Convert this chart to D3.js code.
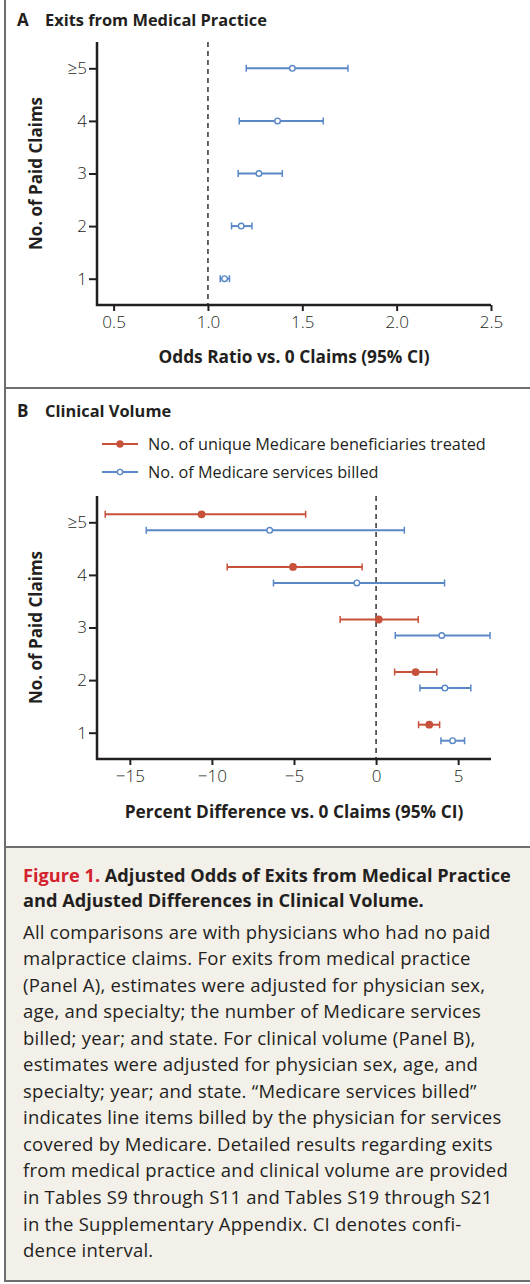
<!DOCTYPE html>
<html>
<head>
<meta charset="utf-8">
<script src="https://cdn.jsdelivr.net/npm/d3@7"></script>
<style>
  html, body { margin: 0; padding: 0; background: #fff; }
  svg { display: block; }
  text { font-family: "Open Sans", Lato, sans-serif; }
</style>
</head>
<body>
<svg id="fig" width="530" height="1284"></svg>
<script>
// ---- Data ----
const claimCategories = ["1", "2", "3", "4", "\u22655"];

// Panel A: odds ratio of exit vs. 0 claims
const exitOR    = [1.088, 1.176, 1.270, 1.369, 1.447];
const exitLower = [1.065, 1.125, 1.160, 1.166, 1.203];
const exitUpper = [1.114, 1.233, 1.394, 1.611, 1.742];
const orTicks   = [0.5, 1.0, 1.5, 2.0, 2.5];

// Panel B: percent difference vs. 0 claims
const beneficiariesEst   = [3.24, 2.41, 0.16, -5.06, -10.63];
const beneficiariesLower = [2.59, 1.13, -2.19, -9.07, -16.5];
const beneficiariesUpper = [3.87, 3.70, 2.57, -0.85, -4.29];

const servicesEst   = [4.66, 4.19, 4.00, -1.17, -6.48];
const servicesLower = [3.95, 2.67, 1.17, -6.25, -14.0];
const servicesUpper = [5.39, 5.77, 6.94, 4.17, 1.72];

const pctTicks = [-15, -10, -5, 0, 5];

const seriesNames = ["No. of unique Medicare beneficiaries treated", "No. of Medicare services billed"];

const captionTitle = ["Adjusted Odds of Exits from Medical Practice", "and Adjusted Differences in Clinical Volume."];
const captionBody = [
  "All comparisons are with physicians who had no paid",
  "malpractice claims. For exits from medical practice",
  "(Panel A), estimates were adjusted for physician sex,",
  "age, and specialty; the number of Medicare services",
  "billed; year; and state. For clinical volume (Panel B),",
  "estimates were adjusted for physician sex, age, and",
  "specialty; year; and state. \u201CMedicare services billed\u201D",
  "indicates line items billed by the physician for services",
  "covered by Medicare. Detailed results regarding exits",
  "from medical practice and clinical volume are provided",
  "in Tables S9 through S11 and Tables S19 through S21",
  "in the Supplementary Appendix. CI denotes confi-",
  "dence interval."
];

// ---- Style ----
const RED = "#c8513b";
const BLUE = "#5a87c6";
const INK = "#231f20";
const FRAME = "#6d6e70";

const svg = d3.select("#fig");

// Frame and caption background
svg.append("rect").attr("x", 5).attr("y", 847).attr("width", 525).attr("height", 434).attr("fill", "#f3f0ea");
svg.append("line").attr("x1", 5).attr("x2", 5).attr("y1", 0).attr("y2", 1282).attr("stroke", FRAME).attr("stroke-width", 2);
[388, 847, 1281].forEach(y =>
  svg.append("line").attr("x1", 4).attr("x2", 530).attr("y1", y).attr("y2", y).attr("stroke", FRAME).attr("stroke-width", 2));

// Shared axis helpers
function styleAxis(g) {
  g.select(".domain").remove();
  g.selectAll(".tick line").attr("stroke", INK).attr("stroke-width", 2);
  g.selectAll(".tick text").attr("fill", INK).style("font-size", "17px")
    .style("font-family", "\"Open Sans\", sans-serif").style("font-weight", 300);
}

function panel(opts) {
  const { top, bottom, left, right, xDomain, ticks, tickFmt, refX, title, letter, titleY, xLabel, xLabelY } = opts;
  const x = d3.scaleLinear().domain(xDomain).range([left, right]);
  const y = d3.scaleLinear().domain([0.5, 5.5]).range([bottom, top]);
  const g = svg.append("g");

  // Panel heading
  const head = g.append("text").attr("x", 17).attr("y", titleY).attr("fill", INK).style("font-weight", 700);
  head.append("tspan").text(letter).style("font-size", "17px");
  head.append("tspan").attr("x", 45).text(title).style("font-size", "16.4px");

  // Reference line
  g.append("line")
    .attr("x1", x(refX)).attr("x2", x(refX))
    .attr("y1", top).attr("y2", bottom)
    .attr("stroke", "#333").attr("stroke-width", 1.5).attr("stroke-dasharray", "5,4");

  // Axes
  const xa = g.append("g").attr("transform", `translate(0,${bottom})`)
    .call(d3.axisBottom(x).tickValues(ticks).tickFormat(tickFmt).tickSize(6).tickPadding(5));
  styleAxis(xa);
  const ya = g.append("g").attr("transform", `translate(${left},0)`)
    .call(d3.axisLeft(y).tickValues([1, 2, 3, 4, 5]).tickFormat((d, i) => claimCategories[i]).tickSize(8).tickPadding(2));
  styleAxis(ya);

  g.append("path")
    .attr("d", `M${left},${top}V${bottom}H${right}`)
    .attr("fill", "none").attr("stroke", INK).attr("stroke-width", 2.5);

  // Axis titles
  g.append("text").attr("x", (left + right) / 2).attr("y", xLabelY).attr("text-anchor", "middle")
    .attr("fill", INK).style("font-weight", 700).style("font-size", "17.3px").text(xLabel);
  g.append("text").attr("transform", `translate(42,${(top + bottom) / 2}) rotate(-90)`)
    .attr("text-anchor", "middle").attr("fill", INK).style("font-weight", 700).style("font-size", "17px")
    .text("No. of Paid Claims");

  return { g, x, y };
}

function errorBars(ctx, est, lo, hi, color, dy, filled) {
  const { g, x, y } = ctx;
  const rows = est.map((e, i) => ({ e, lo: lo[i], hi: hi[i], cy: y(i + 1) + dy }));
  const s = g.append("g");
  s.selectAll("line.ci").data(rows).join("line")
    .attr("x1", d => x(d.lo)).attr("x2", d => x(d.hi))
    .attr("y1", d => d.cy).attr("y2", d => d.cy)
    .attr("stroke", color).attr("stroke-width", 2);
  s.selectAll("path.cap").data(rows).join("path")
    .attr("d", d => `M${x(d.lo)},${d.cy - 3.5}v7M${x(d.hi)},${d.cy - 3.5}v7`)
    .attr("stroke", color).attr("stroke-width", 1.5).attr("fill", "none");
  s.selectAll("circle").data(rows).join("circle")
    .attr("cx", d => x(d.e)).attr("cy", d => d.cy)
    .attr("r", filled ? 3.2 : 2.8)
    .attr("fill", filled ? color : "#fff")
    .attr("stroke", color).attr("stroke-width", 1.4);
}

// ---- Panel A ----
const pa = panel({
  top: 42, bottom: 305, left: 97, right: 491,
  xDomain: [0.412, 2.5], ticks: orTicks, tickFmt: d3.format(".1f"), refX: 1,
  letter: "A", title: "Exits from Medical Practice", titleY: 26,
  xLabel: "Odds Ratio vs. 0 Claims (95% CI)", xLabelY: 363
});
errorBars(pa, exitOR, exitLower, exitUpper, BLUE, 0, false);

// ---- Panel B ----
const pb = panel({
  top: 496, bottom: 759, left: 97, right: 491,
  xDomain: [-17, 7], ticks: pctTicks, tickFmt: d => d < 0 ? "\u2212" + Math.abs(d) : d, refX: 0,
  letter: "B", title: "Clinical Volume", titleY: 417,
  xLabel: "Percent Difference vs. 0 Claims (95% CI)", xLabelY: 818
});
errorBars(pb, beneficiariesEst, beneficiariesLower, beneficiariesUpper, RED, -8, true);
errorBars(pb, servicesEst, servicesLower, servicesUpper, BLUE, 8, false);

// Legend
const legend = svg.append("g");
[RED, BLUE].forEach((c, i) => {
  const ly = 444 + i * 28;
  legend.append("line").attr("x1", 102).attr("x2", 138).attr("y1", ly).attr("y2", ly).attr("stroke", c).attr("stroke-width", 2);
  legend.append("circle").attr("cx", 120).attr("cy", ly).attr("r", i === 0 ? 3 : 2.6)
    .attr("fill", i === 0 ? c : "#fff").attr("stroke", c).attr("stroke-width", 1.3);
  legend.append("text").attr("x", 148).attr("y", ly + 5.5).attr("fill", INK).style("font-size", "16.25px").text(seriesNames[i]);
});

// ---- Caption ----
const cap = svg.append("g");
captionTitle.forEach((line, i) => {
  const t = cap.append("text").attr("x", 23).attr("y", 882 + i * 24.5)
    .attr("fill", INK).style("font-weight", 700).style("font-size", "18.2px");
  if (i === 0) t.append("tspan").attr("fill", "#d3222e").text("Figure 1. ");
  t.append("tspan").text(line);
});
captionBody.forEach((line, i) => {
  cap.append("text").attr("x", 23).attr("y", 938.5 + i * 26.55)
    .attr("fill", INK).style("font-size", "18.5px").style("letter-spacing", "0.25px").text(line);
});
</script>
</body>
</html>
